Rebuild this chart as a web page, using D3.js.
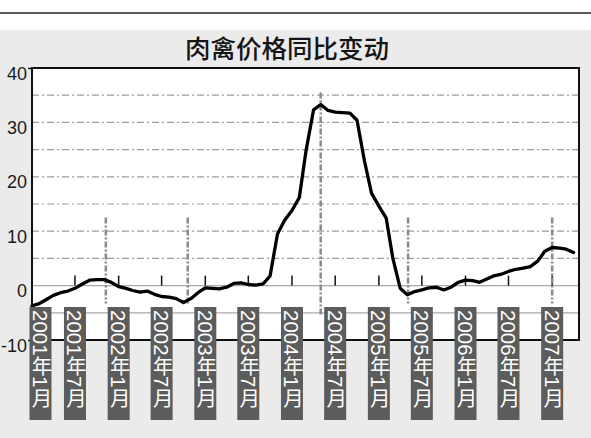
<!DOCTYPE html>
<html>
<head>
<meta charset="utf-8">
<script src="https://cdn.jsdelivr.net/npm/d3@7"></script>
<style>
  html, body { margin: 0; padding: 0; background: #fff; }
  svg { display: block; }
</style>
</head>
<body>
<script>
// Monthly year-on-year change of meat & poultry prices (%), starting Jan 2001
const startMonth = "2001-01";
const values = [
  -3.7, -3.3, -2.6, -1.8, -1.3, -1.0, -0.5, 0.3, 1.0, 1.1, 1.1, 0.6,      // 2001
  -0.2, -0.5, -0.9, -1.2, -1.0, -1.6, -2.0, -2.1, -2.4, -3.1, -2.4, -1.3,  // 2002
  -0.4, -0.5, -0.6, -0.3, 0.4, 0.5, 0.2, 0.1, 0.3, 1.8, 9.5, 12.0,         // 2003
  13.8, 16.2, 25.0, 32.3, 33.3, 32.2, 31.9, 31.8, 31.7, 30.4, 23.0, 17.0,  // 2004
  14.6, 12.4, 5.0, -0.5, -1.7, -1.1, -0.8, -0.4, -0.3, -0.8, -0.3, 0.6,    // 2005
  1.0, 0.9, 0.6, 1.2, 1.8, 2.1, 2.6, 3.0, 3.2, 3.5, 4.5, 6.3,              // 2006
  7.0, 6.9, 6.7, 6.1                                                        // 2007
];

const tickDates = [
  "2001-01-01", "2001-07-01", "2002-01-01", "2002-07-01", "2003-01-01",
  "2003-07-01", "2004-01-01", "2004-07-01", "2005-01-01", "2005-07-01",
  "2006-01-01", "2006-07-01", "2007-01-01"
];
const tickLabels = [
  "2001年1月", "2001年7月", "2002年1月", "2002年7月", "2003年1月",
  "2003年7月", "2004年1月", "2004年7月", "2005年1月", "2005年7月",
  "2006年1月", "2006年7月", "2007年1月"
];

const yTicks = [40, 30, 20, 10, 0, -10];
const gridValues = [35, 30, 25, 20, 15, 10, 5];
const refValues = [0, -5];

// Turning points of the cycle, marked with vertical dash-dot lines
const turnDates = ["2001-11-08", "2002-10-19", "2004-05-01", "2005-05-04", "2007-01-01"];
const turnHigh = [12.5, 12.5, 35.5, 12.5, 12.5];
const turnLow = [-3.3, -3.3, -5.5, -3.3, -3.3];

const title = "肉禽价格同比变动";

const W = 591, H = 438;
const plot = { left: 32, right: 579, top: 68, bottom: 340 };

const parseDay = d3.timeParse("%Y-%m-%d");
const parseMonth = d3.timeParse("%Y-%m");
const start = parseMonth(startMonth);
const series = values.map((v, i) => ({ date: d3.timeMonth.offset(start, i), value: v }));

const x = d3.scaleTime()
  .domain([parseDay("2001-01-01"), parseDay("2007-04-24")])
  .range([plot.left, plot.right]);
const y = d3.scaleLinear().domain([-10, 40]).range([plot.bottom, plot.top]);

const svg = d3.select("body").append("svg")
  .attr("width", W).attr("height", H);

// page background: white strip with rule, grey panel below
svg.append("rect").attr("x", 0).attr("y", 0).attr("width", W).attr("height", H).attr("fill", "#fff");
svg.append("line").attr("x1", 0).attr("x2", W).attr("y1", 13).attr("y2", 13)
  .attr("stroke", "#222").attr("stroke-width", 1.5);
svg.append("rect").attr("x", 0).attr("y", 30).attr("width", W).attr("height", H - 30).attr("fill", "#ebebeb");

// title
svg.append("text")
  .attr("x", 287).attr("y", 58)
  .attr("text-anchor", "middle")
  .attr("font-family", "'Noto Sans CJK SC', sans-serif")
  .attr("font-size", 25.5).attr("font-weight", 500)
  .attr("fill", "#151515")
  .text(title);

// plot background
svg.append("rect")
  .attr("x", plot.left).attr("y", plot.top)
  .attr("width", plot.right - plot.left).attr("height", plot.bottom - plot.top)
  .attr("fill", "#fff");

// dash-dot horizontal grid
svg.append("g").selectAll("line").data(gridValues).join("line")
  .attr("x1", plot.left).attr("x2", plot.right)
  .attr("y1", d => y(d)).attr("y2", d => y(d))
  .attr("stroke", "#9c9c9c").attr("stroke-width", 1.2)
  .attr("stroke-dasharray", "7,3,2,3");

// solid reference lines at 0 and -5
svg.append("g").selectAll("line").data(refValues).join("line")
  .attr("x1", plot.left).attr("x2", plot.right)
  .attr("y1", d => y(d)).attr("y2", d => y(d))
  .attr("stroke", "#a8a8a8").attr("stroke-width", 1.3);

// small ticks standing on the zero line
svg.append("g").selectAll("line").data(tickDates.slice(1)).join("line")
  .attr("x1", d => x(parseDay(d))).attr("x2", d => x(parseDay(d)))
  .attr("y1", y(0) - 10).attr("y2", y(0))
  .attr("stroke", "#111").attr("stroke-width", 1.5);

// turning-point markers
svg.append("g").selectAll("line").data(turnDates).join("line")
  .attr("x1", d => x(parseDay(d))).attr("x2", d => x(parseDay(d)))
  .attr("y1", (d, i) => y(turnHigh[i])).attr("y2", (d, i) => y(turnLow[i]))
  .attr("stroke", "#8a8a8a").attr("stroke-width", 2.5)
  .attr("stroke-dasharray", "6,2,2,2");

// price change line
const line = d3.line()
  .x(d => x(d.date)).y(d => y(d.value))
  .curve(d3.curveLinear);
svg.append("path").datum(series)
  .attr("d", line)
  .attr("fill", "none").attr("stroke", "#000")
  .attr("stroke-width", 3.3).attr("stroke-linejoin", "round").attr("stroke-linecap", "round");

// plot frame
svg.append("rect")
  .attr("x", plot.left).attr("y", plot.top)
  .attr("width", plot.right - plot.left).attr("height", plot.bottom - plot.top)
  .attr("fill", "none").attr("stroke", "#111").attr("stroke-width", 2);

// y axis labels and outer ticks (plain hyphen for negatives)
const yAxis = d3.axisLeft(y).tickValues(yTicks).tickSize(4).tickPadding(1).tickFormat(d => String(d));
const gy = svg.append("g").attr("transform", `translate(${plot.left},0)`).call(yAxis);
gy.select(".domain").remove();
gy.selectAll(".tick line").attr("stroke", "#111").attr("stroke-width", 1.5)
  .attr("display", d => (d === 40 || d === -10) ? null : "none");
gy.selectAll(".tick text")
  .attr("font-family", "'Liberation Sans', Arial, sans-serif")
  .attr("font-size", 18).attr("fill", "#1a1a1a")
  .attr("dy", "0.62em");

// x labels: vertical white text on dark boxes
const boxW = 22;
const gx = svg.append("g").selectAll("g").data(tickDates).join("g")
  .attr("transform", d => `translate(${Math.max(x(parseDay(d)), plot.left + 8.5)},0)`);
gx.append("rect")
  .attr("x", -boxW / 2).attr("y", 307).attr("width", boxW).attr("height", 113)
  .attr("fill", "#5c5c5c");
gx.append("text")
  .attr("x", 0).attr("y", 310)
  .style("writing-mode", "vertical-rl")
  .attr("font-family", "'Liberation Sans', 'Noto Sans CJK SC', sans-serif")
  .attr("font-size", 20.5).attr("fill", "#fff")
  .text((d, i) => tickLabels[i]);
</script>
</body>
</html>
